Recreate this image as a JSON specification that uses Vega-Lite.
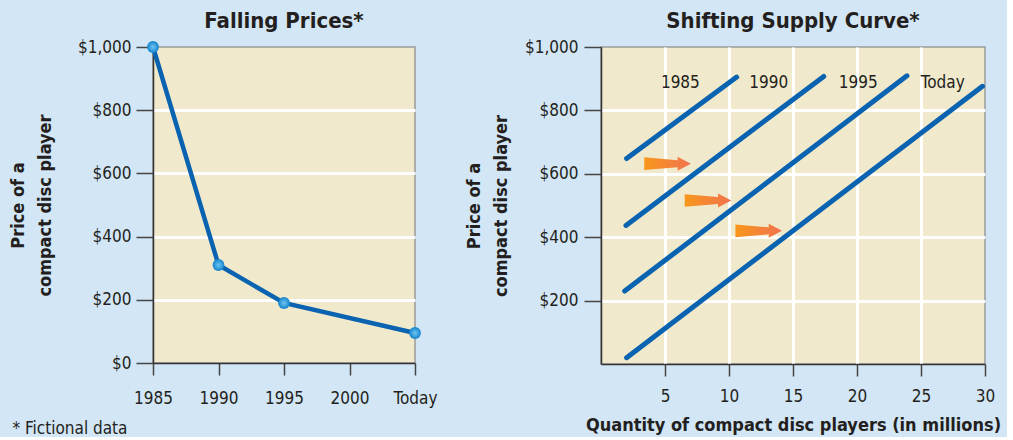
{
  "$schema": "https://vega.github.io/schema/vega-lite/v6.json",
  "background": "#d3e6f5",
  "padding": {"left": 8, "top": 9, "right": 5, "bottom": 0},
  "spacing": 26,
  "config": {
    "font": "'DejaVu Sans Condensed', sans-serif",
    "view": {"fill": "#f1e9cb", "stroke": "#9a9a9a", "strokeWidth": 1.5},
    "axis": {
      "labelFont": "'DejaVu Sans Condensed', sans-serif",
      "labelFontSize": 17,
      "labelColor": "#231f20",
      "titleFont": "'DejaVu Sans Condensed', sans-serif",
      "titleFontSize": 18,
      "titleFontWeight": "bold",
      "titleColor": "#231f20",
      "domainColor": "#333333",
      "domainWidth": 1.5,
      "tickColor": "#444444",
      "tickWidth": 1.5,
      "gridColor": "#ffffff",
      "gridWidth": 3
    },
    "title": {
      "font": "'DejaVu Sans Condensed', sans-serif",
      "fontSize": 22,
      "fontWeight": "bold",
      "color": "#231f20",
      "frame": "group",
      "anchor": "middle"
    }
  },
  "hconcat": [
    {
      "width": 262,
      "height": 316,
      "title": {"text": "Falling Prices*", "offset": 5},
      "data": {
        "values": [
          {"year": "1985", "price": 1000},
          {"year": "1990", "price": 310},
          {"year": "1995", "price": 190},
          {"year": "Today", "price": 95}
        ]
      },
      "encoding": {
        "x": {
          "field": "year",
          "type": "ordinal",
          "scale": {"type": "point", "padding": 0, "domain": ["1985", "1990", "1995", "2000", "Today"]},
          "axis": {
            "labelAngle": 0,
            "tickSize": 12,
            "labelPadding": 15,
            "title": "* Fictional data",
            "titleX": -141,
            "titleY": 70,
            "titleAlign": "left",
            "titleBaseline": "alphabetic",
            "titleAngle": 0,
            "titleFontWeight": "normal",
            "titleFontSize": 17,
            "gridOpacity": {"condition": {"test": "datum.value === '1985' || datum.value === 'Today'", "value": 0}, "value": 1}
          }
        },
        "y": {
          "field": "price",
          "type": "quantitative",
          "scale": {"domain": [0, 1000]},
          "axis": {
            "values": [0, 200, 400, 600, 800, 1000],
            "format": "$,.0f",
            "tickSize": 17,
            "labelPadding": 5,
            "title": ["Price of a", "compact disc player"],
            "titleLineHeight": 27,
            "titlePadding": 23,
            "gridOpacity": {"condition": {"test": "datum.value === 0 || datum.value === 1000", "value": 0}, "value": 1}
          }
        }
      },
      "layer": [
        {"mark": {"type": "line", "color": "#0a63b0", "strokeWidth": 4.5}},
        {
          "mark": {
            "type": "circle",
            "size": 140,
            "opacity": 1,
            "fill": {
              "gradient": "radial",
              "stops": [
                {"offset": 0, "color": "#6fc6f2"},
                {"offset": 1, "color": "#1583cc"}
              ]
            }
          }
        }
      ]
    },
    {
      "width": 384,
      "height": 317,
      "title": {"text": "Shifting Supply Curve*", "offset": 5},
      "encoding": {
        "x": {
          "field": "q",
          "type": "quantitative",
          "scale": {"domain": [0, 30]},
          "axis": {
            "values": [5, 10, 15, 20, 25, 30],
            "tickSize": 12,
            "labelPadding": 12,
            "labelFlush": false,
            "title": "Quantity of compact disc players (in millions)",
            "titlePadding": 12,
            "gridOpacity": {"condition": {"test": "datum.value === 30", "value": 0}, "value": 1}
          }
        },
        "y": {
          "field": "price",
          "type": "quantitative",
          "scale": {"domain": [0, 1000]},
          "axis": {
            "values": [200, 400, 600, 800, 1000],
            "format": "$,.0f",
            "tickSize": 17,
            "labelPadding": 6,
            "title": ["Price of a", "compact disc player"],
            "titleLineHeight": 27,
            "titlePadding": 14,
            "gridOpacity": {"condition": {"test": "datum.value === 1000", "value": 0}, "value": 1}
          }
        }
      },
      "layer": [
        {
          "data": {
            "values": [
              {"series": "1985", "q": 2.0, "price": 648},
              {"series": "1985", "q": 10.6, "price": 905},
              {"series": "1990", "q": 1.95, "price": 437},
              {"series": "1990", "q": 17.4, "price": 907},
              {"series": "1995", "q": 1.85, "price": 230},
              {"series": "1995", "q": 23.9, "price": 909},
              {"series": "Today", "q": 2.0, "price": 20},
              {"series": "Today", "q": 29.8, "price": 876}
            ]
          },
          "mark": {"type": "line", "color": "#0a63b0", "strokeWidth": 5, "strokeCap": "round"},
          "encoding": {"detail": {"field": "series"}}
        },
        {
          "data": {
            "values": [
              {"q": 5.2, "price": 632},
              {"q": 8.36, "price": 516},
              {"q": 12.32, "price": 420}
            ]
          },
          "mark": {
            "type": "point",
            "shape": "M-1,-0.27L0.43,-0.15L0.43,-0.3L1,0L0.43,0.3L0.43,0.15L-1,0.27Z",
            "size": 2172,
            "filled": true,
            "opacity": 1,
            "strokeWidth": 0,
            "fill": {
              "gradient": "linear",
              "x1": 0, "y1": 0, "x2": 1, "y2": 0,
              "stops": [
                {"offset": 0, "color": "#f8971c"},
                {"offset": 1, "color": "#f2734f"}
              ]
            }
          }
        },
        {
          "data": {
            "values": [
              {"label": "1985", "q": 6.2, "price": 887},
              {"label": "1990", "q": 13.1, "price": 887},
              {"label": "1995", "q": 20.1, "price": 887},
              {"label": "Today", "q": 26.7, "price": 887}
            ]
          },
          "mark": {"type": "text", "fontSize": 17, "color": "#231f20", "baseline": "middle"},
          "encoding": {"text": {"field": "label"}}
        }
      ]
    }
  ]
}
